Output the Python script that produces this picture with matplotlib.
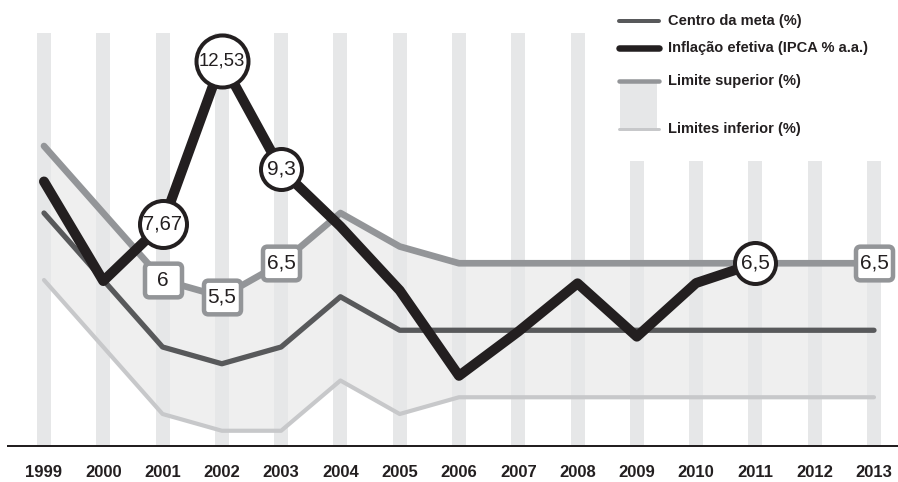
import numpy as np
import matplotlib
matplotlib.use("Agg")
import matplotlib.pyplot as plt
from matplotlib.path import Path
from matplotlib.lines import Line2D
from matplotlib.patches import Rectangle

plt.rcParams['font.family'] = ['Liberation Sans', 'DejaVu Sans']

years = [1999, 2000, 2001, 2002, 2003, 2004, 2005, 2006, 2007, 2008, 2009, 2010, 2011, 2012, 2013]
centro = [8, 6, 4, 3.5, 4, 5.5, 4.5, 4.5, 4.5, 4.5, 4.5, 4.5, 4.5, 4.5, 4.5]
superior = [10, 8, 6, 5.5, 6.5, 8, 7, 6.5, 6.5, 6.5, 6.5, 6.5, 6.5, 6.5, 6.5]
inferior = [6, 4, 2, 1.5, 1.5, 3, 2, 2.5, 2.5, 2.5, 2.5, 2.5, 2.5, 2.5, 2.5]
ipca_years = [1999, 2000, 2001, 2002, 2003, 2004, 2005, 2006, 2007, 2008, 2009, 2010, 2011]
ipca = [8.94, 5.97, 7.67, 12.53, 9.3, 7.6, 5.69, 3.14, 4.46, 5.9, 4.31, 5.91, 6.5]

ipca_label_years = [2001, 2002, 2003, 2011]
sup_label_years = [2001, 2002, 2003, 2013]

legend_labels = ["Centro da meta (%)", "Inflação efetiva (IPCA % a.a.)",
                 "Limite superior (%)", "Limites inferior (%)"]

C_CENTRO = '#58595b'
C_IPCA = '#231f20'
C_SUP = '#939598'
C_INF = '#c7c8ca'
C_FILL = '#efefef'
C_BAR = '#e6e7e8'

W, H = 898, 482
PT = 0.72  # px -> pt at dpi 100

fig = plt.figure(figsize=(W / 100, H / 100), dpi=100)
ax = fig.add_axes([8 / W, (H - 446) / H, 890 / W, (446 - 10) / H])
ymin, ymax = 1.045, 14.06
ax.set_xlim(1998.393, 2013.405)
ax.set_ylim(ymin, ymax)

# vertical background bars (shorter under the legend)
bar_tops = [13.37 if y <= 2008 else 9.55 for y in years]
ax.bar(years, [t - ymin for t in bar_tops], bottom=ymin, width=0.236,
       color=C_BAR, zorder=2)

ax.fill_between(years, inferior, superior, color=C_FILL, lw=0, zorder=1)

ax.plot(years, inferior, color=C_INF, lw=3.0, solid_capstyle='round', zorder=3)
ax.plot(years, centro, color=C_CENTRO, lw=3.8, solid_capstyle='round', zorder=4)
ax.plot(years, superior, color=C_SUP, lw=4.8, solid_capstyle='round', zorder=5)
ax.plot(ipca_years, ipca, color=C_IPCA, lw=7.2, solid_capstyle='round', zorder=6)


def rounded_rect(w=0.5, h=0.455, r=0.12):
    verts = [(-w + r, -h), (w - r, -h), (w, -h), (w, -h + r), (w, h - r), (w, h),
             (w - r, h), (-w + r, h), (-w, h), (-w, h - r), (-w, -h + r), (-w, -h),
             (-w + r, -h), (-w + r, -h)]
    codes = [Path.MOVETO, Path.LINETO, Path.CURVE3, Path.CURVE3, Path.LINETO,
             Path.CURVE3, Path.CURVE3, Path.LINETO, Path.CURVE3, Path.CURVE3,
             Path.LINETO, Path.CURVE3, Path.CURVE3, Path.CLOSEPOLY]
    return Path(verts, codes)


def fmt(v):
    return f"{v:g}".replace('.', ',')


# boxes on the upper limit
box = rounded_rect()
for yr in sup_label_years:
    v = superior[years.index(yr)]
    ax.plot([yr], [v], marker=box, ms=37 * PT, mfc='white', mec=C_SUP,
            mew=4.5 * PT, zorder=7)
    ax.text(yr, v, fmt(v), ha='center', va='center', fontsize=15,
            color=C_IPCA, zorder=8)

# circles on the IPCA line
circle_px = {2001: 51, 2002: 56, 2003: 45, 2011: 45}
label_fs = {2001: 14.5, 2002: 13.4, 2003: 15, 2011: 15}
for yr in ipca_label_years:
    v = ipca[ipca_years.index(yr)]
    ax.plot([yr], [v], marker='o', ms=(circle_px[yr] - 4) * PT, mfc='white',
            mec=C_IPCA, mew=4 * PT, zorder=9)
    ax.text(yr, v, fmt(v), ha='center', va='center', fontsize=label_fs[yr],
            color=C_IPCA, zorder=10)

ax.set_xticks(years, [str(y) for y in years])
ax.tick_params(axis='x', length=0, pad=14, labelsize=12, labelcolor=C_IPCA)
for lab in ax.get_xticklabels():
    lab.set_fontweight('bold')
ax.set_yticks([])
for s in ['top', 'left', 'right']:
    ax.spines[s].set_visible(False)
ax.spines['bottom'].set_color(C_IPCA)
ax.spines['bottom'].set_linewidth(2 * PT)
ax.spines['bottom'].set_zorder(11)


# legend drawn by hand (pixel coords)
def fx(x):
    return x / W


def fy(y):
    return 1 - y / H


fig.add_artist(Rectangle((fx(620), fy(129)), (657 - 620) / W, (129 - 81) / H,
                         transform=fig.transFigure, color=C_BAR, lw=0))
leg_rows = [21, 48, 81, 129]
leg_style = [(C_CENTRO, 4.0), (C_IPCA, 6.5), (C_SUP, 4.5), (C_INF, 3.0)]
for yy, (c, lw), lab in zip(leg_rows, leg_style, legend_labels):
    fig.add_artist(Line2D([fx(619), fx(659)], [fy(yy), fy(yy)], color=c,
                          lw=lw * PT, solid_capstyle='round',
                          transform=fig.transFigure))
    fig.text(fx(668), fy(yy), lab, ha='left', va='center', fontsize=10.5,
             fontweight='bold', color=C_IPCA)

fig.savefig("out.png", dpi=100)
